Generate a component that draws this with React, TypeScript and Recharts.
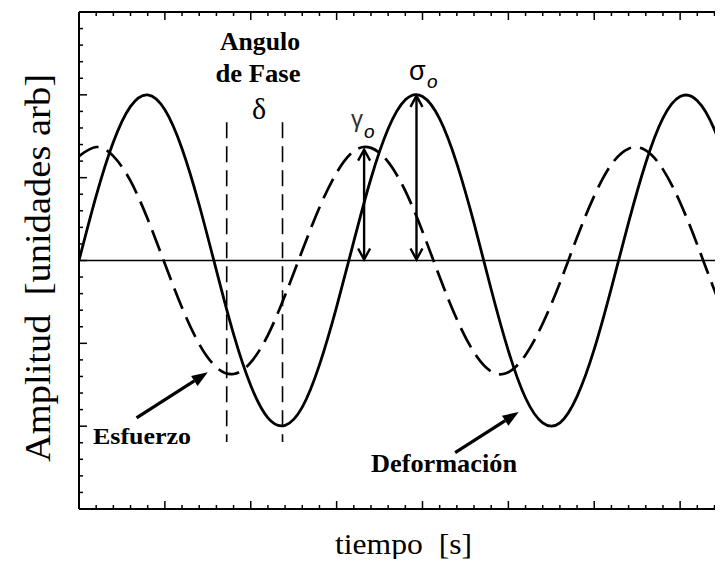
import React from "react";
import { LineChart, Line, XAxis, YAxis, ReferenceLine } from "recharts";

// sample times [s]
const time = [
  0, 0.2, 0.4, 0.6, 0.8, 1.0, 1.2, 1.4, 1.6, 1.8, 2.0, 2.2, 2.4, 2.6, 2.8, 3.0, 3.2, 3.4, 3.6, 3.8, 4.0,
  4.2, 4.4, 4.6, 4.8, 5.0, 5.2, 5.4, 5.6, 5.8, 6.0, 6.2, 6.4, 6.6, 6.8, 7.0, 7.2, 7.4, 7.6, 7.8, 8.0,
];

// solid curve
const deformacion = [
  0, 0.78, 1.43, 1.86, 2.0, 1.82, 1.35, 0.67, -0.12, -0.89, -1.51, -1.9, -1.99, -1.77, -1.26, -0.56, 0.23,
  0.99, 1.59, 1.94, 1.98, 1.71, 1.17, 0.45, -0.35, -1.09, -1.66, -1.96, -1.96, -1.64, -1.07, -0.33, 0.46,
  1.18, 1.72, 1.98, 1.93, 1.58, 0.97, 0.22, -0.58,
];

// dashed curve
const esfuerzo = [
  1.26, 1.37, 1.26, 0.96, 0.5, -0.04, -0.57, -1.01, -1.29, -1.37, -1.23, -0.9, -0.42, 0.12, 0.64, 1.06,
  1.32, 1.36, 1.19, 0.84, 0.35, -0.2, -0.71, -1.11, -1.34, -1.35, -1.14, -0.76, -0.27, 0.28, 0.78, 1.16,
  1.35, 1.33, 1.1, 0.7, 0.19, -0.36, -0.85, -1.21, -1.36,
];

const timeTicks = [
  0, 0.2, 0.4, 0.6, 0.8, 1, 1.2, 1.4, 1.6, 1.8, 2, 2.2, 2.4, 2.6, 2.8, 3, 3.2, 3.4, 3.6, 3.8, 4,
  4.2, 4.4, 4.6, 4.8, 5, 5.2, 5.4, 5.6, 5.8, 6, 6.2, 6.4, 6.6, 6.8, 7, 7.2, 7.4, 7.6, 7.8, 8,
];

const ampTicks = [
  -3, -2.8, -2.6, -2.4, -2.2, -2, -1.8, -1.6, -1.4, -1.2, -1, -0.8, -0.6, -0.4, -0.2, 0,
  0.2, 0.4, 0.6, 0.8, 1, 1.2, 1.4, 1.6, 1.8, 2, 2.2, 2.4, 2.6, 2.8, 3,
];

const data = time.map((t, i) => ({ t, deformacion: deformacion[i], esfuerzo: esfuerzo[i] }));

const serif = "'Liberation Serif', 'Times New Roman', serif";
const sans = "'Liberation Sans', Arial, sans-serif";

const isMajor = (v: number) => Math.abs(v - Math.round(v)) < 1e-6;

// inward ticks on the frame
const BottomTick = ({ x, y, payload }: any) => (
  <line x1={x} y1={y} x2={x} y2={y - (isMajor(payload.value) ? 8 : 4)} stroke="#000" strokeWidth={1.5} />
);
const TopTick = ({ x, y, payload }: any) => (
  <line x1={x} y1={y} x2={x} y2={y + (isMajor(payload.value) ? 8 : 4)} stroke="#000" strokeWidth={1.5} />
);
const LeftTick = ({ x, y, payload }: any) => (
  <line x1={x} y1={y} x2={x + (isMajor(payload.value) ? 8 : 4)} y2={y} stroke="#000" strokeWidth={1.5} />
);

// vertical arrow with open heads at both ends
const DoubleArrow = ({ x1, y1, y2 }: any) => {
  const top = Math.min(y1, y2);
  const bot = Math.max(y1, y2);
  return (
    <g stroke="#000" strokeWidth={2.4} fill="none" strokeLinejoin="miter">
      <line x1={x1} y1={top + 1} x2={x1} y2={bot - 1} />
      <polyline points={`${x1 - 6},${top + 12} ${x1},${top + 1} ${x1 + 6},${top + 12}`} />
      <polyline points={`${x1 - 6},${bot - 12} ${x1},${bot - 1} ${x1 + 6},${bot - 12}`} />
    </g>
  );
};

// pointer arrow, tail -> head
const Pointer = ({ x1, y1, x2, y2 }: any) => {
  const dx = x2 - x1;
  const dy = y2 - y1;
  const len = Math.hypot(dx, dy);
  const ux = dx / len;
  const uy = dy / len;
  const bx = x2 - ux * 16;
  const by = y2 - uy * 16;
  const pts = `${x2},${y2} ${bx - uy * 6},${by + ux * 6} ${bx + uy * 6},${by - ux * 6}`;
  return (
    <g>
      <line x1={x1} y1={y1} x2={bx} y2={by} stroke="#000" strokeWidth={3.2} />
      <polygon points={pts} fill="#000" />
    </g>
  );
};

const phaseA = 1.72;
const phaseB = 2.37;

const frame = { stroke: "#000", strokeWidth: 2 };

export default function App() {
  return (
    <div style={{ position: "relative", width: 723, height: 567, margin: -8, overflow: "hidden", background: "#fff" }}>
      <LineChart width={766} height={567} data={data} margin={{ top: 11, right: 0, bottom: 57, left: 78 }}>
        <XAxis
          dataKey="t"
          type="number"
          domain={[0, 8]}
          ticks={timeTicks}
          interval={0}
          height={1}
          tickSize={0}
          tickMargin={0}
          tickLine={false}
          tick={<BottomTick />}
          axisLine={frame}
          allowDataOverflow
        />
        <XAxis
          xAxisId="top"
          orientation="top"
          dataKey="t"
          type="number"
          domain={[0, 8]}
          ticks={timeTicks}
          interval={0}
          height={1}
          tickSize={0}
          tickMargin={0}
          tickLine={false}
          tick={<TopTick />}
          axisLine={frame}
          allowDataOverflow
        />
        <YAxis
          type="number"
          domain={[-3, 3]}
          ticks={ampTicks}
          interval={0}
          width={1}
          tickSize={0}
          tickMargin={0}
          tickLine={false}
          tick={<LeftTick />}
          axisLine={frame}
          allowDataOverflow
        />
        <ReferenceLine y={0} stroke="#000" strokeWidth={1.3} />
        <ReferenceLine
          segment={[{ x: phaseA, y: 1.67 }, { x: phaseA, y: -2.19 }]}
          stroke="#000"
          strokeWidth={1.6}
          strokeDasharray="16 8"
        />
        <ReferenceLine
          segment={[{ x: phaseB, y: 1.67 }, { x: phaseB, y: -2.19 }]}
          stroke="#000"
          strokeWidth={1.6}
          strokeDasharray="16 8"
        />
        <Line
          type="natural"
          dataKey="esfuerzo"
          stroke="#000"
          strokeWidth={2.7}
          strokeDasharray="22 9"
          dot={false}
          activeDot={false}
          isAnimationActive={false}
        />
        <Line
          type="natural"
          dataKey="deformacion"
          stroke="#000"
          strokeWidth={2.8}
          dot={false}
          activeDot={false}
          isAnimationActive={false}
        />
        {/* gamma_0 and sigma_0 amplitude arrows */}
        <ReferenceLine segment={[{ x: 3.32, y: 1.35 }, { x: 3.32, y: 0 }]} shape={DoubleArrow} />
        <ReferenceLine segment={[{ x: 3.93, y: 2.0 }, { x: 3.93, y: 0 }]} shape={DoubleArrow} />
        {/* label pointers */}
        <ReferenceLine segment={[{ x: 0.67, y: -1.9 }, { x: 1.5, y: -1.35 }]} shape={Pointer} />
        <ReferenceLine segment={[{ x: 4.38, y: -2.32 }, { x: 5.12, y: -1.83 }]} shape={Pointer} />
      </LineChart>

      <svg width={723} height={567} style={{ position: "absolute", left: 0, top: 0, pointerEvents: "none" }}>
        <text
          transform="translate(50,268) rotate(-90)"
          textAnchor="middle"
          fontFamily={serif}
          fontSize={36}
          textLength={388}
          lengthAdjust="spacingAndGlyphs"
          style={{ whiteSpace: "pre" }}
        >
          {"Amplitud  [unidades arb]"}
        </text>
        <text
          x={335}
          y={554}
          fontFamily={serif}
          fontSize={30}
          textLength={137}
          lengthAdjust="spacingAndGlyphs"
          style={{ whiteSpace: "pre" }}
        >
          {"tiempo  [s]"}
        </text>

        <text x={260} y={50} textAnchor="middle" fontFamily={serif} fontWeight={700} fontSize={25} textLength={80} lengthAdjust="spacingAndGlyphs">
          Angulo
        </text>
        <text x={258} y={82} textAnchor="middle" fontFamily={serif} fontWeight={700} fontSize={25} textLength={85} lengthAdjust="spacingAndGlyphs">
          de Fase
        </text>
        <text x={259} y={119} textAnchor="middle" fontFamily={serif} fontSize={30}>
          δ
        </text>

        <text x={409} y={80} fontFamily={sans} fontSize={27}>
          σ
        </text>
        <text x={427} y={88} fontFamily={sans} fontStyle="italic" fontSize={19}>
          o
        </text>
        <text x={351} y={127} fontFamily={sans} fontSize={24} fill="#333">
          γ
        </text>
        <text x={364} y={138} fontFamily={sans} fontStyle="italic" fontSize={19}>
          o
        </text>

        <text x={93} y={444} fontFamily={serif} fontWeight={700} fontSize={24} textLength={98} lengthAdjust="spacingAndGlyphs">
          Esfuerzo
        </text>
        <text x={371} y={472} fontFamily={serif} fontWeight={700} fontSize={25} textLength={146} lengthAdjust="spacingAndGlyphs">
          Deformación
        </text>
      </svg>
    </div>
  );
}
